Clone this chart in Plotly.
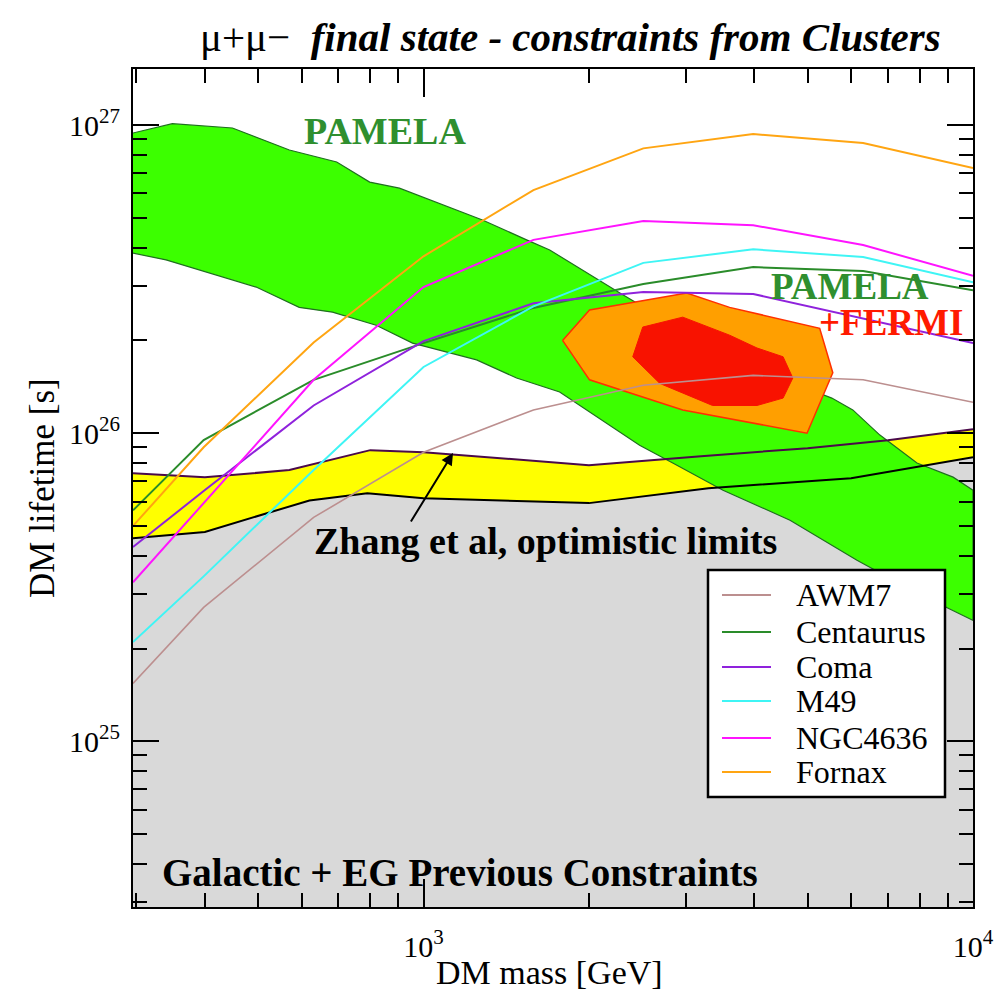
import math
import plotly.graph_objects as go

# ---------------- data ----------------
# cluster lower limits on DM lifetime, mu+mu- channel
mass_grid = [296, 398, 631, 1000, 1585, 2512, 3981, 6310, 10000]
tau_awm7 = [1.54e25, 2.72e25, 5.33e25, 8.67e25, 1.19e26, 1.43e26, 1.54e26, 1.49e26, 1.26e26]
tau_centaurus = [5.62e25, 9.5e25, 1.49e26, 1.96e26, 2.55e26, 3.05e26, 3.46e26, 3.36e26, 2.91e26]
tau_coma = [4.27e25, 6.49e25, 1.23e26, 1.99e26, 2.64e26, 2.87e26, 2.83e26, 2.36e26, 1.96e26]
tau_m49 = [2.1e25, 3.43e25, 7.6e25, 1.64e26, 2.58e26, 3.57e26, 3.95e26, 3.73e26, 3.09e26]
tau_ngc4636 = [3.28e25, 5.93e25, 1.49e26, 2.98e26, 4.24e26, 4.88e26, 4.73e26, 4.08e26, 3.24e26]
tau_fornax = [5.0e25, 9.0e25, 1.97e26, 3.75e26, 6.15e26, 8.4e26, 9.35e26, 8.75e26, 7.25e26]

cluster_names = ["AWM7", "Centaurus", "Coma", "M49", "NGC4636", "Fornax"]
cluster_colors = ["#bc8f8f", "#2a8c2a", "#8f22dc", "#3ff5f5", "#ff14ff", "#ffa512"]
cluster_widths = [1.6, 2, 2, 2, 2, 2]

# Zhang et al. optimistic limits band
zhang_up_mass = [296, 400, 570, 800, 1000, 1375, 2000, 3200, 5000, 7000, 10000]
zhang_up_tau = [7.41e25, 7.19e25, 7.59e25, 8.81e25, 8.68e25, 8.29e25, 7.87e25, 8.42e25, 8.94e25, 9.49e25, 1.03e26]
zhang_lo_mass = [296, 400, 620, 790, 1000, 2000, 3300, 6000, 10000]
zhang_lo_tau = [4.56e25, 4.78e25, 6.05e25, 6.38e25, 6.15e25, 5.93e25, 6.63e25, 7.14e25, 8.36e25]

# PAMELA preferred region
pamela_up_mass = [296, 349, 449, 570, 695, 798, 904, 1280, 1540, 1697, 2277, 3184, 4449, 5534, 6043, 6770, 7907, 9200, 10000]
pamela_up_tau = [9.42e26, 1.01e27, 9.78e26, 8.3e26, 7.59e26, 6.53e26, 6.24e26, 4.92e26, 4.24e26, 3.93e26,
                 2.85e26, 2.0e26, 1.51e26, 1.30e26, 1.19e26, 9.86e25, 8.0e25, 7.2e25, 6.53e25]
pamela_lo_mass = [296, 340, 496, 594, 683, 820, 955, 1249, 1477, 1769, 2473, 2842, 3508, 4645, 6150, 7907, 10000]
pamela_lo_tau = [3.84e26, 3.65e26, 2.98e26, 2.56e26, 2.47e26, 2.24e26, 1.96e26, 1.73e26, 1.51e26, 1.36e26,
                 9.14e25, 8.0e25, 6.53e25, 5.22e25, 3.87e25, 3.03e25, 2.47e25]

# PAMELA + FERMI contours (outer / inner)
fermi_outer_mass = [1791, 2005, 3013, 3606, 5260, 5557, 4988, 2963, 2005]
fermi_outer_tau = [2.0e26, 2.51e26, 2.85e26, 2.56e26, 2.19e26, 1.57e26, 1.0e26, 1.19e26, 1.49e26]
fermi_inner_mass = [2403, 2506, 2963, 3606, 4045, 4512, 4700, 4512, 4045, 3357, 2692]
fermi_inner_tau = [1.77e26, 2.21e26, 2.38e26, 2.08e26, 1.89e26, 1.77e26, 1.51e26, 1.30e26, 1.23e26, 1.23e26, 1.45e26]

x_min, x_max = 296, 1e4
y_min, y_max = 2.9e24, 1.52e27
y_floor = 1e24

y_major = [1e25, 1e26, 1e27]
y_major_text = ["10<sup>25</sup>", "10<sup>26</sup>", "10<sup>27</sup>"]
x_major = [1e3, 1e4]
x_major_text = ["10<sup>3</sup>", "10<sup>4</sup>"]

SERIF = "Liberation Serif"


def closed(xs, ys):
    return list(xs) + [xs[0]], list(ys) + [ys[0]]


fig = go.Figure()

# previous galactic + extragalactic constraints (grey area under the Zhang band)
fig.add_trace(go.Scatter(
    x=zhang_lo_mass + [zhang_lo_mass[-1], zhang_lo_mass[0]],
    y=zhang_lo_tau + [y_floor, y_floor],
    fill="toself", fillcolor="#d9d9d9", mode="none", showlegend=False, hoverinfo="skip"))

# Zhang et al band
fig.add_trace(go.Scatter(
    x=zhang_up_mass + zhang_lo_mass[::-1],
    y=zhang_up_tau + zhang_lo_tau[::-1],
    fill="toself", fillcolor="#ffff00", mode="none", showlegend=False, hoverinfo="skip"))

# PAMELA region
fig.add_trace(go.Scatter(
    x=pamela_up_mass + pamela_lo_mass[::-1],
    y=pamela_up_tau + pamela_lo_tau[::-1],
    fill="toself", fillcolor="#3cff00", mode="lines",
    line=dict(color="#1f6f1f", width=1.2), showlegend=False, hoverinfo="skip"))

# band edges
fig.add_trace(go.Scatter(x=zhang_up_mass, y=zhang_up_tau, mode="lines",
                         line=dict(color="#4a0a4a", width=2), showlegend=False, hoverinfo="skip"))
fig.add_trace(go.Scatter(x=zhang_lo_mass, y=zhang_lo_tau, mode="lines",
                         line=dict(color="#000000", width=2), showlegend=False, hoverinfo="skip"))

# PAMELA + FERMI contours
ox, oy = closed(fermi_outer_mass, fermi_outer_tau)
fig.add_trace(go.Scatter(x=ox, y=oy, fill="toself", fillcolor="#ff9f00", mode="lines",
                         line=dict(color="#ff3000", width=1.5), showlegend=False, hoverinfo="skip"))
ix, iy = closed(fermi_inner_mass, fermi_inner_tau)
fig.add_trace(go.Scatter(x=ix, y=iy, fill="toself", fillcolor="#f81200", mode="lines",
                         line=dict(color="#f81200", width=1), showlegend=False, hoverinfo="skip"))

# cluster limits
cluster_taus = [tau_awm7, tau_centaurus, tau_coma, tau_m49, tau_ngc4636, tau_fornax]
for name, col, w, taus in zip(cluster_names, cluster_colors, cluster_widths, cluster_taus):
    fig.add_trace(go.Scatter(x=mass_grid, y=taus, mode="lines", name=name,
                             line=dict(color=col, width=w), showlegend=False))

minor_y = [k * 10.0 ** e for e in range(24, 28) for k in range(2, 10)]
minor_x = [k * 10.0 ** e for e in range(2, 4) for k in range(2, 10)]

axis_common = dict(
    showline=True, linecolor="black", linewidth=2, mirror="ticks",
    ticks="inside", tickcolor="black", tickwidth=2, showgrid=False, zeroline=False,
    tickfont=dict(family=SERIF, size=30, color="black"),
)

fig.update_xaxes(type="log", range=[math.log10(x_min), math.log10(x_max)],
                 tickvals=x_major, ticktext=x_major_text, ticklen=28, ticklabelstandoff=12,
                 minor=dict(tickvals=minor_x, ticks="inside", ticklen=14, tickcolor="black",
                            tickwidth=2, showgrid=False),
                 **axis_common)
fig.update_yaxes(type="log", range=[math.log10(y_min), math.log10(y_max)],
                 tickvals=y_major, ticktext=y_major_text, ticklen=26, ticklabelstandoff=5,
                 minor=dict(tickvals=minor_y, ticks="inside", ticklen=14, tickcolor="black",
                            tickwidth=2, showgrid=False),
                 **axis_common)


def px_x(p):
    return (p - 133) / 840


def px_y(p):
    return (907 - p) / 838


annotations = [
    dict(text="μ+μ−  <b><i>final state - constraints from Clusters</i></b>",
         x=px_x(570), y=px_y(37), font=dict(size=41)),
    dict(text="DM mass [GeV]", x=px_x(549), y=px_y(972), font=dict(size=34)),
    dict(text="DM lifetime [s]", x=px_x(42), y=px_y(488), textangle=-90, font=dict(size=35)),
    dict(text="<b>PAMELA</b>", x=px_x(385), y=px_y(131), font=dict(size=38, color="#2f8f2f")),
    dict(text="<b>PAMELA</b>", x=px_x(850), y=px_y(286), font=dict(size=37, color="#2f8f2f")),
    dict(text="<b>+FERMI</b>", x=px_x(817), y=px_y(322), xanchor="left",
         font=dict(size=37, color="#ff1a00")),
    dict(text="<b>Zhang et al, optimistic limits</b>", x=px_x(545), y=px_y(541), font=dict(size=38)),
    dict(text="<b>Galactic + EG Previous Constraints</b>", x=px_x(460), y=px_y(872), font=dict(size=39)),
]
for a in annotations:
    a.setdefault("xanchor", "center")
    a.update(xref="paper", yref="paper", yanchor="middle", showarrow=False)
    a["font"] = dict(family=SERIF, color=a["font"].get("color", "black"), size=a["font"]["size"])
    fig.add_annotation(**a)

# arrow pointing at the Zhang band
fig.add_annotation(x=px_x(453), y=px_y(453), xref="paper", yref="paper", text="",
                   showarrow=True, ax=-43, ay=70, arrowhead=2, arrowsize=1.2,
                   arrowwidth=2, arrowcolor="black")

# legend box with line samples
fig.add_shape(type="rect", xref="paper", yref="paper",
              x0=px_x(708), x1=px_x(945), y0=px_y(797), y1=px_y(570),
              fillcolor="white", line=dict(color="black", width=2.5), layer="above")
legend_rows = [595, 632, 667, 701, 738, 772]
for name, col, row in zip(cluster_names, cluster_colors, legend_rows):
    fig.add_shape(type="line", xref="paper", yref="paper",
                  x0=px_x(722), x1=px_x(771), y0=px_y(row), y1=px_y(row),
                  line=dict(color=col, width=2), layer="above")
    fig.add_annotation(text=name, xref="paper", yref="paper", x=px_x(794), y=px_y(row),
                       xanchor="left", yanchor="middle", showarrow=False,
                       font=dict(family=SERIF, size=32, color="black"))

fig.update_layout(
    width=1006, height=996,
    margin=dict(l=133, r=33, t=69, b=89),
    paper_bgcolor="white", plot_bgcolor="white",
    font=dict(family=SERIF, color="black"),
    showlegend=False,
)

fig.write_html("out.html")
